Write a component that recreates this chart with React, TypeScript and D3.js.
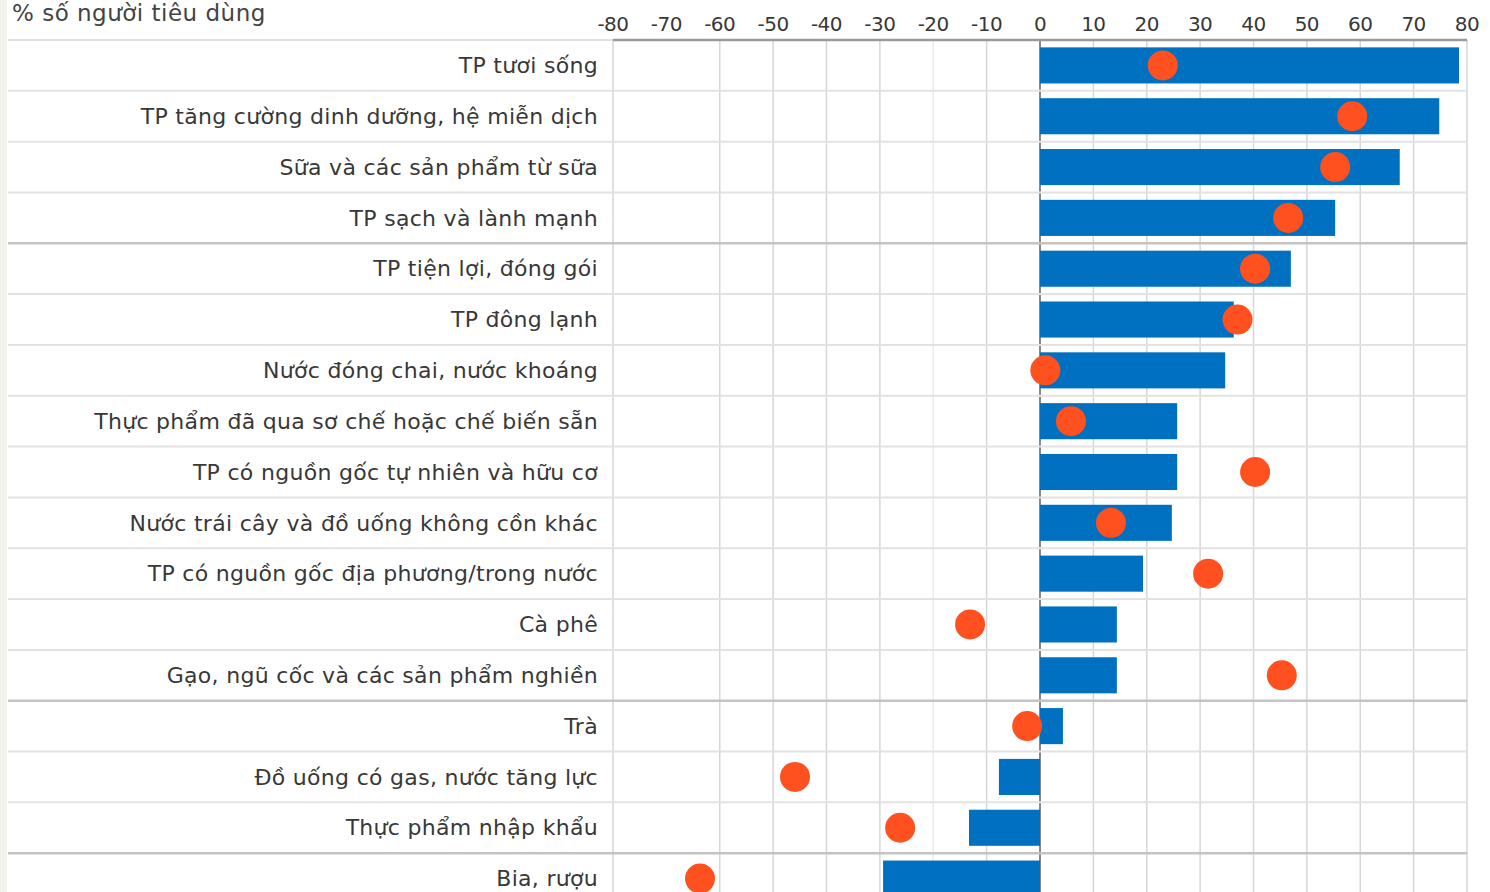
import React from "react";
import * as d3 from "d3";

const categories = [
  "TP tươi sống",
  "TP tăng cường dinh dưỡng, hệ miễn dịch",
  "Sữa và các sản phẩm từ sữa",
  "TP sạch và lành mạnh",
  "TP tiện lợi, đóng gói",
  "TP đông lạnh",
  "Nước đóng chai, nước khoáng",
  "Thực phẩm đã qua sơ chế hoặc chế biến sẵn",
  "TP có nguồn gốc tự nhiên và hữu cơ",
  "Nước trái cây và đồ uống không cồn khác",
  "TP có nguồn gốc địa phương/trong nước",
  "Cà phê",
  "Gạo, ngũ cốc và các sản phẩm nghiền",
  "Trà",
  "Đồ uống có gas, nước tăng lực",
  "Thực phẩm nhập khẩu",
  "Bia, rượu",
];

const barValues = [78.5, 74.8, 67.4, 55.3, 47, 36.3, 34.7, 25.7, 25.7, 24.7, 19.3, 14.4, 14.4, 4.3, -7.7, -13.3, -29.4];
const dotValues = [23, 58.5, 55.3, 46.5, 40.3, 37, 1, 5.8, 40.3, 13.3, 31.5, -13.1, 45.3, -2.4, -45.9, -26.2, -63.7];

const tickValues = [-80, -70, -60, -50, -40, -30, -20, -10, 0, 10, 20, 30, 40, 50, 60, 70, 80];
const gridValues = [-80, -60, -50, -40, -30, -20, -10, 0, 10, 20, 30, 40, 50, 60, 70, 80];
const heavySeparators = [4, 13, 16];

const title = "% số người tiêu dùng";

export default function App() {
  const W = 1490;
  const H = 892;
  const top = 40;
  const x = d3.scaleLinear().domain([-80, 80]).range([613, 1467]);
  const y = d3
    .scaleBand<string>()
    .domain(categories)
    .range([top, top + 864])
    .paddingInner(0.29)
    .paddingOuter(0.145);
  const step = y.step();
  const font = "'DejaVu Sans', sans-serif";

  return (
    <svg
      width={W}
      height={H}
      style={{ position: "absolute", left: 0, top: 0, background: "#fff" }}
    >
      <rect x={0} y={0} width={7} height={H} fill="#f3f3ee" />
      {/* vertical grid */}
      {gridValues.map((v) => (
        <line
          key={"g" + v}
          x1={x(v)}
          x2={x(v)}
          y1={top}
          y2={H}
          stroke={v === 0 ? "#888" : v === -20 ? "#ececec" : "#d6d6d6"}
          strokeWidth={v === 0 ? 2 : 1.5}
        />
      ))}
      {/* row separators */}
      {categories.map((c, i) => {
        if (i === 0) return null;
        const yy = top + i * step;
        const heavy = heavySeparators.includes(i);
        return (
          <line
            key={"s" + i}
            x1={8}
            x2={1467}
            y1={yy}
            y2={yy}
            stroke={heavy ? "#c4c4c4" : "#e2e2e2"}
            strokeWidth={heavy ? 2.5 : 2}
          />
        );
      })}
      {/* top line */}
      <line x1={8} x2={613} y1={top} y2={top} stroke="#e0e0e0" strokeWidth={2} />
      <line x1={613} x2={1467} y1={top} y2={top} stroke="#9a9a9a" strokeWidth={2.5} />
      {/* bars */}
      {categories.map((c, i) => {
        const v = barValues[i];
        return (
          <rect
            key={"b" + i}
            x={x(Math.min(0, v))}
            y={y(c)}
            width={Math.abs(x(v) - x(0))}
            height={y.bandwidth()}
            fill="#0070c0"
          />
        );
      })}
      {/* dots */}
      {categories.map((c, i) => (
        <circle
          key={"d" + i}
          cx={x(dotValues[i])}
          cy={(y(c) as number) + y.bandwidth() / 2}
          r={15}
          fill="#ff5020"
        />
      ))}
      {/* category labels */}
      {categories.map((c, i) => (
        <text
          key={"l" + i}
          x={598}
          y={(y(c) as number) + y.bandwidth() / 2}
          dy="0.35em"
          textAnchor="end"
          fontFamily={font}
          fontSize={22}
          letterSpacing={0.3}
          fill="#383838"
        >
          {c}
        </text>
      ))}
      {/* tick labels */}
      {tickValues.map((v) => (
        <text
          key={"t" + v}
          x={x(v)}
          y={24}
          dy="0.35em"
          textAnchor="middle"
          fontFamily={font}
          fontSize={20}
          fill="#383838"
          letterSpacing={-0.5}
        >
          {v}
        </text>
      ))}
      <text x={12} y={21} fontFamily={font} fontSize={23} letterSpacing={0.5} fill="#444">
        {title}
      </text>
    </svg>
  );
}
